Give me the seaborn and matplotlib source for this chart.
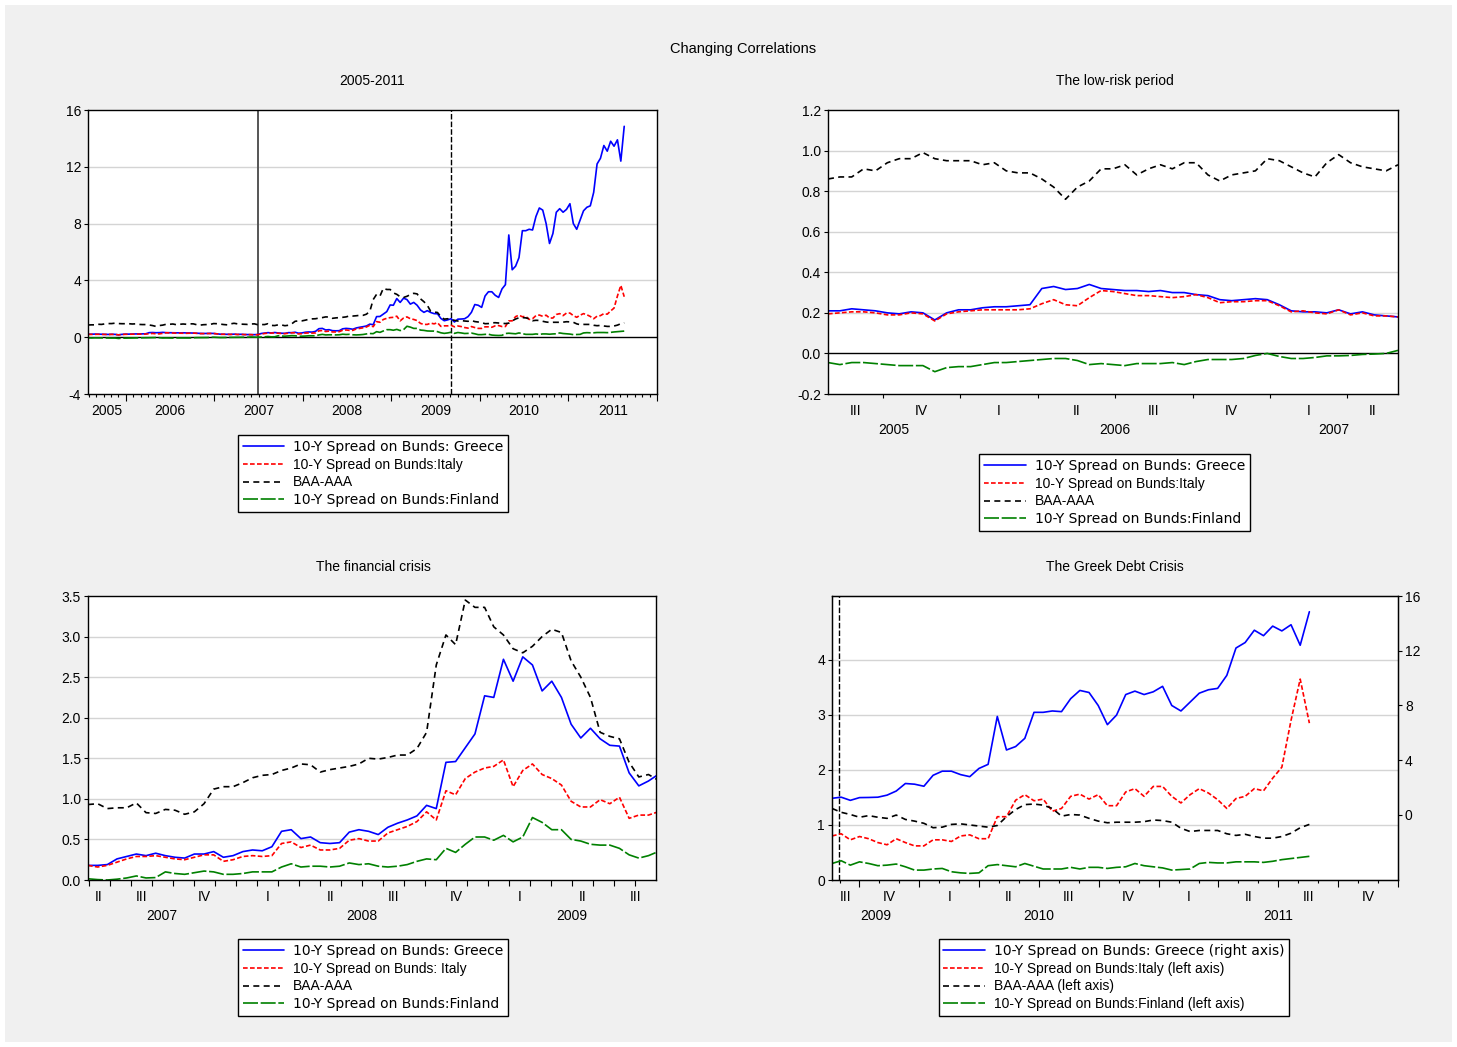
import numpy as np
import pandas as pd
import seaborn as sns
import matplotlib.pyplot as plt
from matplotlib.lines import Line2D
from matplotlib.ticker import FormatStrFormatter

# biweekly readings (percentage points), first observation 2005-07-29
# low-risk period: Jul 2005 - May 2007
greece_low = [0.21, 0.21, 0.22, 0.215, 0.21, 0.20, 0.195, 0.205, 0.20, 0.165,
              0.20, 0.215, 0.215, 0.225, 0.23, 0.23, 0.235, 0.24, 0.32, 0.33,
              0.315, 0.32, 0.34, 0.32, 0.315, 0.31, 0.31, 0.305, 0.31, 0.30,
              0.30, 0.29, 0.285, 0.265, 0.26, 0.265, 0.27, 0.265, 0.24, 0.21,
              0.205, 0.205, 0.20, 0.215, 0.195, 0.205, 0.19, 0.185, 0.18]
italy_low = [0.195, 0.20, 0.205, 0.205, 0.20, 0.19, 0.19, 0.20, 0.195, 0.16,
             0.195, 0.205, 0.21, 0.215, 0.215, 0.215, 0.215, 0.22, 0.245, 0.265,
             0.24, 0.235, 0.275, 0.31, 0.305, 0.295, 0.285, 0.285, 0.28, 0.275,
             0.28, 0.29, 0.275, 0.25, 0.255, 0.255, 0.26, 0.26, 0.235, 0.205,
             0.21, 0.20, 0.195, 0.215, 0.19, 0.20, 0.185, 0.185, 0.18]
baa_low = [0.86, 0.87, 0.87, 0.91, 0.90, 0.94, 0.96, 0.96, 0.99, 0.96,
           0.95, 0.95, 0.95, 0.93, 0.94, 0.90, 0.89, 0.89, 0.86, 0.82,
           0.76, 0.82, 0.85, 0.91, 0.91, 0.93, 0.88, 0.91, 0.93, 0.91,
           0.94, 0.94, 0.88, 0.85, 0.88, 0.89, 0.90, 0.96, 0.95, 0.92,
           0.89, 0.87, 0.94, 0.98, 0.94, 0.92, 0.91, 0.90, 0.93]
finland_low = [-0.045, -0.055, -0.045, -0.045, -0.05, -0.055, -0.06, -0.06, -0.06, -0.09,
               -0.07, -0.065, -0.065, -0.055, -0.045, -0.045, -0.04, -0.035, -0.03, -0.025,
               -0.025, -0.035, -0.055, -0.05, -0.055, -0.06, -0.05, -0.05, -0.05, -0.045,
               -0.055, -0.04, -0.03, -0.03, -0.03, -0.025, -0.01, 0.0, -0.015, -0.025,
               -0.025, -0.02, -0.012, -0.012, -0.01, -0.005, -0.003, 0.0, 0.015]

# financial crisis: Jun 2007 - Aug 2009
greece_crisis = [0.18, 0.19, 0.26, 0.29, 0.32, 0.30, 0.33, 0.30, 0.28, 0.27,
                 0.32, 0.32, 0.35, 0.28, 0.30, 0.35, 0.37, 0.36, 0.41, 0.60,
                 0.62, 0.51, 0.53, 0.46, 0.45, 0.46, 0.59, 0.62, 0.60, 0.56,
                 0.65, 0.70, 0.74, 0.79, 0.92, 0.88, 1.45, 1.46, 1.63, 1.80,
                 2.27, 2.25, 2.72, 2.45, 2.75, 2.65, 2.33, 2.45, 2.25, 1.92,
                 1.75, 1.87, 1.74, 1.66, 1.65, 1.32, 1.16, 1.22]
italy_crisis = [0.16, 0.18, 0.22, 0.26, 0.29, 0.29, 0.30, 0.28, 0.26, 0.25,
                0.28, 0.31, 0.31, 0.23, 0.25, 0.29, 0.30, 0.29, 0.30, 0.45,
                0.47, 0.40, 0.43, 0.37, 0.37, 0.39, 0.49, 0.51, 0.48, 0.48,
                0.58, 0.62, 0.66, 0.72, 0.84, 0.74, 1.10, 1.05, 1.25, 1.33,
                1.38, 1.40, 1.48, 1.15, 1.35, 1.43, 1.30, 1.25, 1.17, 0.97,
                0.90, 0.90, 0.99, 0.94, 1.02, 0.76, 0.80, 0.80]
baa_crisis = [0.94, 0.88, 0.89, 0.89, 0.95, 0.83, 0.82, 0.87, 0.86, 0.81,
              0.84, 0.94, 1.12, 1.15, 1.15, 1.20, 1.26, 1.29, 1.30, 1.35,
              1.38, 1.43, 1.42, 1.33, 1.36, 1.38, 1.40, 1.43, 1.50, 1.49,
              1.51, 1.54, 1.54, 1.62, 1.82, 2.65, 3.02, 2.90, 3.45, 3.36,
              3.36, 3.12, 3.02, 2.85, 2.80, 2.88, 3.00, 3.09, 3.05, 2.70,
              2.50, 2.25, 1.82, 1.77, 1.74, 1.45, 1.27, 1.30]
finland_crisis = [0.005, 0.0, 0.01, 0.025, 0.05, 0.025, 0.03, 0.10, 0.08, 0.07,
                  0.09, 0.11, 0.10, 0.07, 0.07, 0.08, 0.10, 0.10, 0.10, 0.16,
                  0.20, 0.16, 0.17, 0.17, 0.16, 0.17, 0.21, 0.19, 0.20, 0.17,
                  0.16, 0.17, 0.19, 0.23, 0.26, 0.25, 0.39, 0.34, 0.44, 0.53,
                  0.53, 0.49, 0.55, 0.47, 0.53, 0.77, 0.71, 0.62, 0.62, 0.50,
                  0.48, 0.44, 0.43, 0.43, 0.39, 0.31, 0.27, 0.30]

# greek debt crisis: Sep 2009 - Aug 2011
greece_debt = [1.3, 1.07, 1.27, 1.28, 1.3, 1.45, 1.75, 2.3, 2.25, 2.1,
               2.9, 3.2, 3.2, 2.95, 2.8, 3.4, 3.7, 7.2, 4.75, 5.0,
               5.6, 7.5, 7.5, 7.6, 7.55, 8.5, 9.1, 8.95, 8.0, 6.6,
               7.3, 8.8, 9.05, 8.8, 9.0, 9.4, 8.0, 7.6, 8.25, 8.9,
               9.15, 9.25, 10.2, 12.2, 12.6, 13.5, 13.1, 13.8, 13.45, 13.9,
               12.4, 14.85]
italy_debt = [0.84, 0.73, 0.79, 0.75, 0.68, 0.64, 0.75, 0.68, 0.62, 0.62,
              0.73, 0.73, 0.70, 0.80, 0.82, 0.75, 0.75, 1.15, 1.15, 1.45,
              1.55, 1.44, 1.47, 1.25, 1.30, 1.52, 1.56, 1.47, 1.55, 1.35,
              1.35, 1.60, 1.66, 1.52, 1.70, 1.70, 1.52, 1.40, 1.55, 1.66,
              1.58, 1.46, 1.30, 1.48, 1.52, 1.66, 1.62, 1.85, 2.05, 2.90,
              3.65, 2.85]
baa_debt = [1.23, 1.19, 1.14, 1.17, 1.14, 1.12, 1.18, 1.10, 1.07, 1.03,
            0.95, 0.96, 1.01, 1.02, 1.00, 0.98, 0.96, 0.99, 1.15, 1.28,
            1.37, 1.38, 1.36, 1.30, 1.16, 1.19, 1.18, 1.12, 1.07, 1.04,
            1.05, 1.05, 1.05, 1.06, 1.09, 1.08, 1.05, 0.94, 0.88, 0.90,
            0.90, 0.90, 0.84, 0.81, 0.83, 0.79, 0.76, 0.76, 0.79, 0.85,
            0.95, 1.01]
finland_debt = [0.35, 0.27, 0.33, 0.30, 0.26, 0.27, 0.29, 0.24, 0.18, 0.18,
                0.20, 0.21, 0.15, 0.13, 0.12, 0.13, 0.26, 0.28, 0.26, 0.24,
                0.30, 0.25, 0.20, 0.20, 0.20, 0.23, 0.20, 0.23, 0.23, 0.21,
                0.23, 0.24, 0.30, 0.26, 0.24, 0.22, 0.18, 0.19, 0.20, 0.30,
                0.32, 0.31, 0.31, 0.33, 0.33, 0.33, 0.32, 0.34, 0.37, 0.39,
                0.41, 0.43]

series = ["Greece", "Italy", "BAA-AAA", "Finland"]
palette = {"Greece": "#0000FF", "Italy": "#FF0000", "BAA-AAA": "black", "Finland": "#008000"}
dash_map = {"Greece": "", "Italy": (2.8, 1.4), "BAA-AAA": (3.6, 2.6), "Finland": (9, 1.6)}
ROMAN = ["I", "II", "III", "IV"]

W, H = 1457, 1047

sns.set_style("white")
plt.rcParams["font.family"] = ["Liberation Sans", "DejaVu Sans"]
plt.rcParams["axes.unicode_minus"] = False
plt.rcParams["text.color"] = "black"
plt.rcParams["axes.edgecolor"] = "black"
plt.rcParams["xtick.color"] = "black"
plt.rcParams["ytick.color"] = "black"

dates = pd.date_range("2005-07-29", periods=len(greece_low) + len(greece_crisis) + len(greece_debt), freq="14D")
df = pd.DataFrame({
    "t": dates.year + (dates.dayofyear - 1) / 365.25,
    "Greece": greece_low + greece_crisis + greece_debt,
    "Italy": italy_low + italy_crisis + italy_debt,
    "BAA-AAA": baa_low + baa_crisis + baa_debt,
    "Finland": finland_low + finland_crisis + finland_debt,
})
n_low, n_crisis = len(greece_low), len(greece_crisis)


def long_form(i0, i1):
    return df.iloc[i0:i1].melt(id_vars="t", var_name="series", value_name="value")


def draw(ax, data, names):
    sub = data[data["series"].isin(names)]
    sns.lineplot(data=sub, x="t", y="value", hue="series", style="series",
                 hue_order=names, style_order=names, palette=palette, dashes=dash_map,
                 estimator=None, lw=1.2, legend=False, ax=ax)
    ax.set_xlabel("")
    ax.set_ylabel("")


def style_y(ax, lo, hi, ticks, fmt=None, grid=None, zero=False):
    ax.set_ylim(lo, hi)
    ax.set_yticks(ticks)
    if fmt:
        ax.yaxis.set_major_formatter(FormatStrFormatter(fmt))
    for g in (grid or []):
        ax.axhline(g, color="#D4D4D4", lw=1, zorder=0.5)
    if zero:
        ax.axhline(0, color="black", lw=1, zorder=1.5)
    ax.tick_params(axis="y", direction="out", length=3, width=0.8, labelsize=10, pad=2, left=True)
    for s in ax.spines.values():
        s.set_color("black")
        s.set_linewidth(1.0)


def time_axis(ax, lo, hi, quarters=True, months=False, major_len=5, minor_len=2.5):
    ax.set_xlim(lo, hi)
    step = 0.25 if quarters else 1.0
    edges = np.arange(np.floor(lo), np.ceil(hi) + step / 2, step)
    ax.set_xticks([e for e in edges if lo + 1e-6 < e <= hi + 1e-6])
    ax.set_xticklabels([])
    if months:
        mm = np.arange(np.floor(lo), np.ceil(hi), 1 / 12)
        ax.set_xticks([v for v in mm if lo < v < hi], minor=True)
    ax.tick_params(axis="x", which="major", direction="out", length=major_len, width=0.8, bottom=True)
    ax.tick_params(axis="x", which="minor", direction="out", length=minor_len, width=0.8, bottom=True)
    for e in edges[:-1]:
        a, b = max(e, lo), min(e + step, hi)
        if b - a > 0.3 * step:
            lab = ROMAN[int(round((e % 1) * 4)) % 4] if quarters else str(int(e))
            ax.annotate(lab, xy=((a + b) / 2, 0), xycoords=("data", "axes fraction"),
                        xytext=(0, -12), textcoords="offset points",
                        ha="center", va="center", fontsize=10)
    if quarters:
        for y in range(int(np.floor(lo)), int(np.ceil(hi))):
            a, b = max(y, lo), min(y + 1, hi)
            if b - a > 0.1:
                ax.annotate(str(y), xy=((a + b) / 2, 0), xycoords=("data", "axes fraction"),
                            xytext=(0, -26), textcoords="offset points",
                            ha="center", va="center", fontsize=10)


def add_legend(cx, cy, labels, spaced):
    handles = [Line2D([], [], color=palette[s], lw=1.2,
                      linestyle="-" if dash_map[s] == "" else (0, dash_map[s])) for s in series]
    leg = fig.legend(handles, labels, loc="center", bbox_to_anchor=(cx / W, 1 - cy / H),
                     frameon=True, fancybox=False, edgecolor="black", facecolor="white",
                     framealpha=1, fontsize=10, handlelength=3.0, handletextpad=0.65,
                     labelspacing=0.28, borderpad=0.35, borderaxespad=0)
    leg.get_frame().set_linewidth(1.0)
    # the original renders some entries with wide letter spacing
    for i in spaced:
        leg.get_texts()[i].set_fontfamily("DejaVu Sans")


def axes_at(x0, y0, x1, y1):
    return fig.add_axes([x0 / W, 1 - y1 / H, (x1 - x0) / W, (y1 - y0) / H])


fig = plt.figure(figsize=(W / 100, H / 100), dpi=100, facecolor="#F0F0F0")
fig.patch.set_edgecolor("white")
fig.patch.set_linewidth(6)

fig.text(743 / W, 1 - 49 / H, "Changing Correlations", ha="center", va="center", fontsize=10.5)

# 2005-2011
ax1 = axes_at(88, 110, 657, 394)
draw(ax1, long_form(0, len(df)), series)
style_y(ax1, -4, 16, [-4, 0, 4, 8, 12, 16], grid=[4, 8, 12], zero=True)
ax1.axvline(2007.49, color="#555555", lw=1.4, zorder=1.5)
ax1.axvline(2009.67, color="black", lw=1.0, ls=(0, (4, 1.5)), zorder=1.5)
time_axis(ax1, df["t"].iloc[0], 2012.0, quarters=False, months=True, major_len=5, minor_len=2.5)
fig.text(372 / W, 1 - 81 / H, "2005-2011", ha="center", va="center", fontsize=10)
add_legend(373, 473.5, ["10-Y Spread on Bunds: Greece", "10-Y Spread on Bunds:Italy",
                        "BAA-AAA", "10-Y Spread on Bunds:Finland"], [0, 3])

# low-risk period
ax2 = axes_at(828, 110, 1398, 394)
draw(ax2, long_form(0, n_low), series)
style_y(ax2, -0.2, 1.2, np.arange(-0.2, 1.21, 0.2), fmt="%.1f",
        grid=[0.2, 0.4, 0.6, 0.8, 1.0], zero=True)
time_axis(ax2, df["t"].iloc[0], df["t"].iloc[n_low - 1], major_len=3)
fig.text(1115 / W, 1 - 81 / H, "The low-risk period", ha="center", va="center", fontsize=10)
add_legend(1114.5, 492.5, ["10-Y Spread on Bunds: Greece", "10-Y Spread on Bunds:Italy",
                           "BAA-AAA", "10-Y Spread on Bunds:Finland"], [0, 3])

# financial crisis
ax3 = axes_at(88, 596, 656, 880)
draw(ax3, long_form(n_low - 1, n_low + n_crisis + 1), series)
style_y(ax3, 0, 3.5, np.arange(0, 3.51, 0.5), fmt="%.1f", grid=[0.5, 1.0, 1.5, 2.0, 2.5, 3.0])
time_axis(ax3, df["t"].iloc[n_low - 1], 2009.665, months=True, major_len=4, minor_len=4)
fig.text(373 / W, 1 - 567 / H, "The financial crisis", ha="center", va="center", fontsize=10)
add_legend(373, 977.5, ["10-Y Spread on Bunds: Greece", "10-Y Spread on Bunds: Italy",
                        "BAA-AAA", "10-Y Spread on Bunds:Finland"], [0, 3])

# greek debt crisis (Greece on the right axis)
ax4 = axes_at(832, 596, 1398, 880)
debt = long_form(n_low + n_crisis - 1, len(df))
draw(ax4, debt, ["Italy", "BAA-AAA", "Finland"])
style_y(ax4, 0, 5.16, [0, 1, 2, 3, 4], grid=[1, 2, 3, 4])
ax4.axvline(2009.666, color="black", lw=1.0, ls=(0, (4, 1.5)), zorder=1.5)
ax4r = ax4.twinx()
draw(ax4r, debt, ["Greece"])
ax4r.set_ylim(-4.75, 16)
ax4r.set_yticks([0, 4, 8, 12, 16])
ax4r.tick_params(axis="y", direction="out", length=3, width=0.8, labelsize=10, pad=2, right=True)
for s in ax4r.spines.values():
    s.set_color("black")
time_axis(ax4, df["t"].iloc[n_low + n_crisis - 1], 2012.0, months=True, major_len=5, minor_len=2.5)
fig.text(1115 / W, 1 - 567 / H, "The Greek Debt Crisis", ha="center", va="center", fontsize=10)
add_legend(1114, 977.5, ["10-Y Spread on Bunds: Greece (right axis)",
                         "10-Y Spread on Bunds:Italy (left axis)",
                         "BAA-AAA (left axis)", "10-Y Spread on Bunds:Finland (left axis)"], [0])

fig.savefig("out.png", dpi=100, facecolor=fig.get_facecolor(), edgecolor=fig.patch.get_edgecolor())
